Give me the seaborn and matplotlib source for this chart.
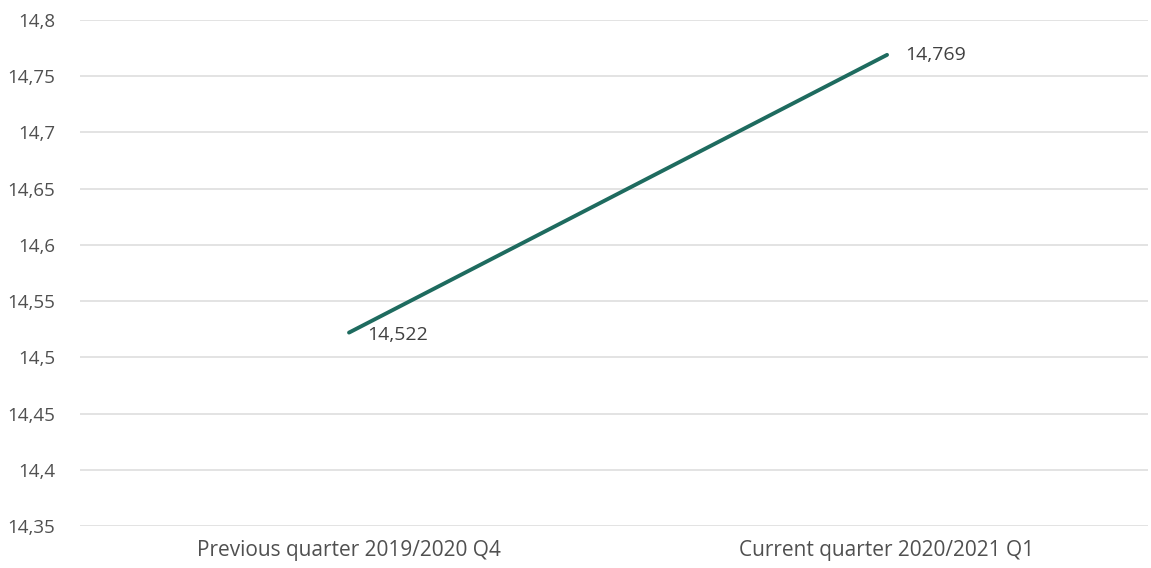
"""Quarterly value, previous vs current quarter"""

import matplotlib
matplotlib.use("Agg")
import matplotlib.pyplot as plt
import matplotlib.ticker as mticker
import pandas as pd
import seaborn as sns

# Data
quarters = ["Previous quarter 2019/2020 Q4", "Current quarter 2020/2021 Q1"]
values = [14.522, 14.769]
y_ticks = [14.35, 14.4, 14.45, 14.5, 14.55, 14.6, 14.65, 14.7, 14.75, 14.8]

df = pd.DataFrame({"quarter": quarters, "value": values})

sns.set_style("white")
plt.rcParams["font.family"] = ["Open Sans", "DejaVu Sans"]

fig = plt.figure(figsize=(11.51, 5.68), dpi=100)
ax = fig.add_axes([80 / 1151, 1 - 526 / 568, 1068 / 1151, 506 / 568])

sns.lineplot(data=df, x="quarter", y="value", ax=ax, color="#1e6b5f",
             linewidth=2.8, sort=False)

# value labels
ax.annotate("14,522", (0, values[0]), xytext=(13, -2), textcoords="offset points",
            ha="left", va="center", fontsize=14, color="#404040")
ax.annotate("14,769", (1, values[1]), xytext=(13, 0), textcoords="offset points",
            ha="left", va="center", fontsize=14, color="#404040")

ax.set_xlim(-0.5, 1.485)
ax.set_ylim(14.35, 14.8)
ax.set_yticks(y_ticks)
ax.yaxis.set_major_formatter(mticker.FuncFormatter(
    lambda v, p: f"{v:.2f}".rstrip("0").rstrip(".").replace(".", ",")))
ax.grid(axis="y", color="#dedede", linewidth=1.2)
ax.set_axisbelow(True)
ax.set_xlabel("")
ax.set_ylabel("")
ax.tick_params(axis="both", length=0, labelcolor="#505050")
ax.tick_params(axis="y", pad=18, labelsize=13.5)
ax.tick_params(axis="x", pad=10, labelsize=15)
sns.despine(ax=ax, left=True, bottom=True, top=True, right=True)

fig.savefig("out.png", dpi=100)
